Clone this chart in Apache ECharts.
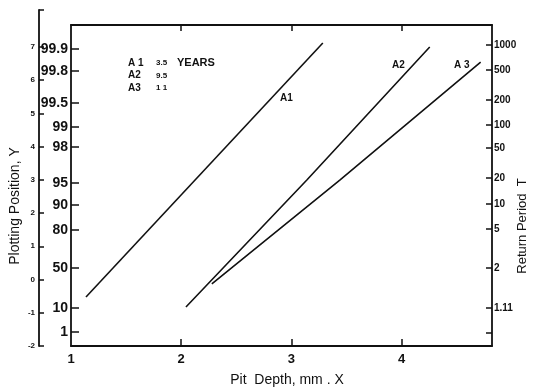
<!DOCTYPE html>
<html>
<head>
<meta charset="utf-8">
<script src="https://cdn.jsdelivr.net/npm/echarts@6/dist/echarts.min.js"></script>
<style>
  html, body { margin: 0; padding: 0; background: #fff; }
  #chart { width: 533px; height: 390px; }
</style>
</head>
<body>
<div id="chart"></div>
<script>
// pit depth (X) vs reduced variate (Y) for the three exposure times
const a1X = [1.136, 3.285]
const a1Y = [-0.525, 7.118]
const a2X = [2.043, 3.140, 4.255]
const a2Y = [-0.826, 2.995, 6.998]
const a3X = [2.278, 3.439, 4.717]
const a3Y = [-0.134, 2.995, 6.546]

// probability scale (inner left axis), positions in reduced variate
const probLabels = ['99.9', '99.8', '99.5', '99', '98', '95', '90', '80', '50', '10', '1']
const probPos = [6.94, 6.28, 5.31, 4.59, 3.99, 2.91, 2.24, 1.49, 0.35, -0.86, -1.58]

// return period scale (right axis)
const periodLabels = ['1000', '500', '200', '100', '50', '20', '10', '5', '2', '1.11', '']
const periodPos = [7.06, 6.31, 5.40, 4.65, 3.96, 3.06, 2.27, 1.52, 0.35, -0.86, -1.61]

// reduced variate scale (outer left axis)
const yLabels = [-2, -1, 0, 1, 2, 3, 4, 5, 6, 7]
const xLabels = [1, 2, 3, 4]

const legendRows = [['A 1', '3.5', 'YEARS'], ['A2', '9.5', ''], ['A3', '1 1', '']]

const black = '#111'
const font = '"Liberation Sans", Arial, sans-serif'

function pairs(xs, ys) {
  return xs.map((x, i) => [x, ys[i]])
}

const chart = echarts.init(document.getElementById('chart'))

const graphic = [
  {
    type: 'text', x: 15, y: 206, rotation: Math.PI / 2,
    style: { text: 'Plotting Position, Y', font: '14px ' + font, fill: black, textAlign: 'center', textVerticalAlign: 'middle' }
  },
  {
    type: 'text', x: 522, y: 226, rotation: Math.PI / 2,
    style: { text: 'Return Period  T', font: '13px ' + font, fill: black, textAlign: 'center', textVerticalAlign: 'middle' }
  },
  {
    type: 'text', x: 287, y: 380,
    style: { text: 'Pit  Depth, mm . X', font: '14px ' + font, fill: black, textAlign: 'center', textVerticalAlign: 'middle' }
  },
  { type: 'text', x: 280, y: 98, style: { text: 'A1', font: 'bold 10px ' + font, fill: black, textVerticalAlign: 'middle' } },
  { type: 'text', x: 392, y: 65, style: { text: 'A2', font: 'bold 10px ' + font, fill: black, textVerticalAlign: 'middle' } },
  { type: 'text', x: 454, y: 65, style: { text: 'A 3', font: 'bold 10px ' + font, fill: black, textVerticalAlign: 'middle' } }
]
legendRows.forEach((row, i) => {
  const y = 63 + i * 12.5
  graphic.push({ type: 'text', x: 128, y: y, style: { text: row[0], font: 'bold 10px ' + font, fill: black, textVerticalAlign: 'middle' } })
  graphic.push({ type: 'text', x: 156, y: y, style: { text: row[1], font: 'bold 8px ' + font, fill: black, textVerticalAlign: 'middle' } })
  if (row[2]) {
    graphic.push({ type: 'text', x: 177, y: y, style: { text: row[2], font: 'bold 11px ' + font, fill: black, textVerticalAlign: 'middle' } })
  }
})

const lineSeries = (name, xs, ys) => ({
  name: name,
  type: 'line',
  xAxisIndex: 0,
  yAxisIndex: 0,
  data: pairs(xs, ys),
  showSymbol: false,
  symbol: 'none',
  lineStyle: { color: black, width: 1.6 },
  silent: true
})

chart.setOption({
  animation: false,
  backgroundColor: '#fff',
  textStyle: { fontFamily: font },
  grid: [
    { left: 71, right: 41, top: 25, bottom: 44 },
    { left: 39, width: 1, top: 10, bottom: 44 }
  ],
  xAxis: [{
    gridIndex: 0,
    type: 'value',
    position: 'bottom',
    min: 1,
    max: 4.82,
    interval: 1,
    axisLine: { onZero: false, lineStyle: { color: black, width: 1.8 } },
    axisTick: { inside: true, length: 7, customValues: [2, 3, 4], lineStyle: { color: black, width: 1.5 } },
    axisLabel: { customValues: xLabels, color: black, fontWeight: 'bold', fontSize: 13, margin: 7 },
    splitLine: { show: false }
  }, {
    gridIndex: 0,
    type: 'value',
    position: 'top',
    min: 1,
    max: 4.82,
    interval: 1,
    axisLine: { onZero: false, lineStyle: { color: black, width: 1.8 } },
    axisTick: { inside: true, length: 6, customValues: [2, 3, 4], lineStyle: { color: black, width: 1.5 } },
    axisLabel: { show: false },
    splitLine: { show: false }
  }, {
    gridIndex: 1,
    type: 'value',
    show: false
  }],
  yAxis: [{
    gridIndex: 0,
    type: 'value',
    position: 'left',
    min: -2,
    max: 7.66,
    axisLine: { onZero: false, lineStyle: { color: black, width: 1.8 } },
    axisTick: { inside: true, length: 8, customValues: probPos, lineStyle: { color: black, width: 1.5 } },
    axisLabel: {
      customValues: probPos,
      formatter: (v) => probLabels[probPos.indexOf(v)],
      color: black,
      fontWeight: 'bold',
      fontSize: 14,
      margin: 3
    },
    splitLine: { show: false }
  }, {
    gridIndex: 0,
    type: 'value',
    position: 'right',
    min: -2,
    max: 7.66,
    axisLine: { onZero: false, lineStyle: { color: black, width: 1.8 } },
    axisTick: { inside: true, length: 6, customValues: periodPos, lineStyle: { color: black, width: 1.5 } },
    axisLabel: {
      customValues: periodPos.slice(0, 10),
      formatter: (v) => periodLabels[periodPos.indexOf(v)],
      color: black,
      fontWeight: 'bold',
      fontSize: 10,
      margin: 2
    },
    splitLine: { show: false }
  }, {
    gridIndex: 1,
    type: 'value',
    position: 'left',
    min: -2,
    max: 8.11,
    axisLine: { onZero: false, lineStyle: { color: black, width: 1.8 } },
    axisTick: { inside: true, length: 5, customValues: yLabels.concat([8.11]), lineStyle: { color: black, width: 1.5 } },
    axisLabel: { customValues: yLabels, color: black, fontWeight: 'bold', fontSize: 8, margin: 4 },
    splitLine: { show: false }
  }],
  graphic: graphic,
  series: [
    lineSeries('A1', a1X, a1Y),
    lineSeries('A2', a2X, a2Y),
    lineSeries('A3', a3X, a3Y)
  ]
})
</script>
</body>
</html>
